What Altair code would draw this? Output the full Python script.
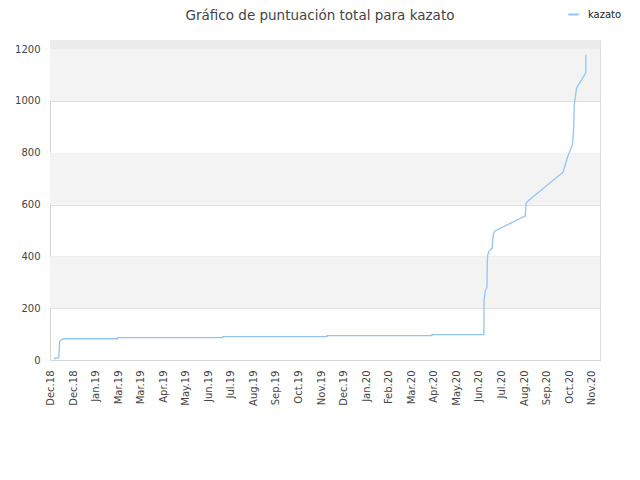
import altair as alt
import pandas as pd

# x positions in "tick units" (0 = first label, 24 = last label)
t_vals = [0.16, 0.22, 0.37, 0.41, 0.44, 0.51, 0.63, 2.97, 2.97, 7.64, 7.64,
          12.26, 12.26, 16.92, 16.92, 19.22, 19.23, 19.26, 19.27, 19.33, 19.36,
          19.37, 19.39, 19.44, 19.52, 19.59, 19.61, 19.65, 19.71, 21.06, 21.09,
          21.19, 22.73, 22.96, 23.15, 23.20, 23.23, 23.33, 23.74, 23.74]
scores = [3, 8, 8, 71, 75, 80, 82, 82, 86, 86, 90,
          90, 94, 94, 98, 98, 231, 251, 264, 276, 283,
          373, 405, 418, 427, 431, 463, 489, 498, 556, 605,
          615, 725, 791, 830, 894, 984, 1050, 1108, 1177]
tick_labels = ["Dec.18", "Dec.18", "Jan.19", "Mar.19", "Mar.19", "Apr.19", "May.19",
               "Jun.19", "Jul.19", "Aug.19", "Sep.19", "Oct.19", "Nov.19", "Dec.19",
               "Jan.20", "Feb.20", "Mar.20", "Apr.20", "May.20", "Jun.20", "Jul.20",
               "Aug.20", "Sep.20", "Oct.20", "Nov.20"]
y_ticks = [0, 200, 400, 600, 800, 1000, 1200]
band_start = [200, 600, 1000]
band_end = [400, 800, 1200]
top_start = [1200]
top_end = [1235]

df = pd.DataFrame({"t": t_vals, "score": scores, "i": list(range(len(scores))),
                   "serie": ["kazato"] * len(scores)})
bands = pd.DataFrame({"y": band_start, "y2": band_end})
top = pd.DataFrame({"y": top_start, "y2": top_end})

xscale = alt.Scale(domain=[-0.02, 24.37], nice=False, zero=False)
yscale = alt.Scale(domain=[0, 1235], nice=False)

labels_js = "[" + ",".join("'" + s + "'" for s in tick_labels) + "]"

yaxis = alt.Axis(values=y_ticks, ticks=False, labelPadding=10, labelFontSize=10,
                 labelColor="#444", gridColor="#dedede", domainColor="#d6d6d6",
                 labelFont="DejaVu Sans", format="d")

band_layer = alt.Chart(bands).mark_rect(color="#f3f3f3").encode(
    y=alt.Y("y:Q", scale=yscale, axis=yaxis, title=None), y2="y2:Q")
top_layer = alt.Chart(top).mark_rect(color="#ececec").encode(
    y=alt.Y("y:Q", scale=yscale, axis=yaxis, title=None), y2="y2:Q")

line = alt.Chart(df).mark_line(strokeWidth=1.3, interpolate="linear").encode(
    x=alt.X("t:Q", scale=xscale, title=None,
            axis=alt.Axis(values=list(range(25)), labelExpr=labels_js + "[datum.value]",
                          labelAngle=-90, ticks=False, grid=False, labelPadding=10,
                          labelFontSize=10, labelColor="#444", domainColor="#d6d6d6",
                          labelFont="DejaVu Sans", labelOverlap=False)),
    y=alt.Y("score:Q", scale=yscale, title=None, axis=yaxis),
    order="i:Q",
    color=alt.Color("serie:N", scale=alt.Scale(range=["#93c4f4"]),
                    legend=alt.Legend(title=None, orient="none", legendX=517, legendY=-32,
                                      symbolType="stroke", symbolSize=110,
                                      symbolStrokeWidth=2, labelOffset=8,
                                      labelFontSize=10, labelColor="#222",
                                      labelFont="DejaVu Sans")),
)

chart = alt.layer(band_layer, top_layer, line).properties(
    width=550, height=320,
    autosize=alt.AutoSizeParams(type="none"),
    padding={"left": 42, "top": 32, "right": 32, "bottom": 112},
    title=alt.TitleParams("Gráfico de puntuación total para kazato", fontSize=13.5,
                          font="DejaVu Sans", fontWeight="normal", color="#444",
                          anchor="middle", offset=-14, dx=-5),
).configure_view(stroke="#dcdcdc").configure(background="white")

chart.save("out.html", embed_options={"renderer": "svg", "actions": False})
